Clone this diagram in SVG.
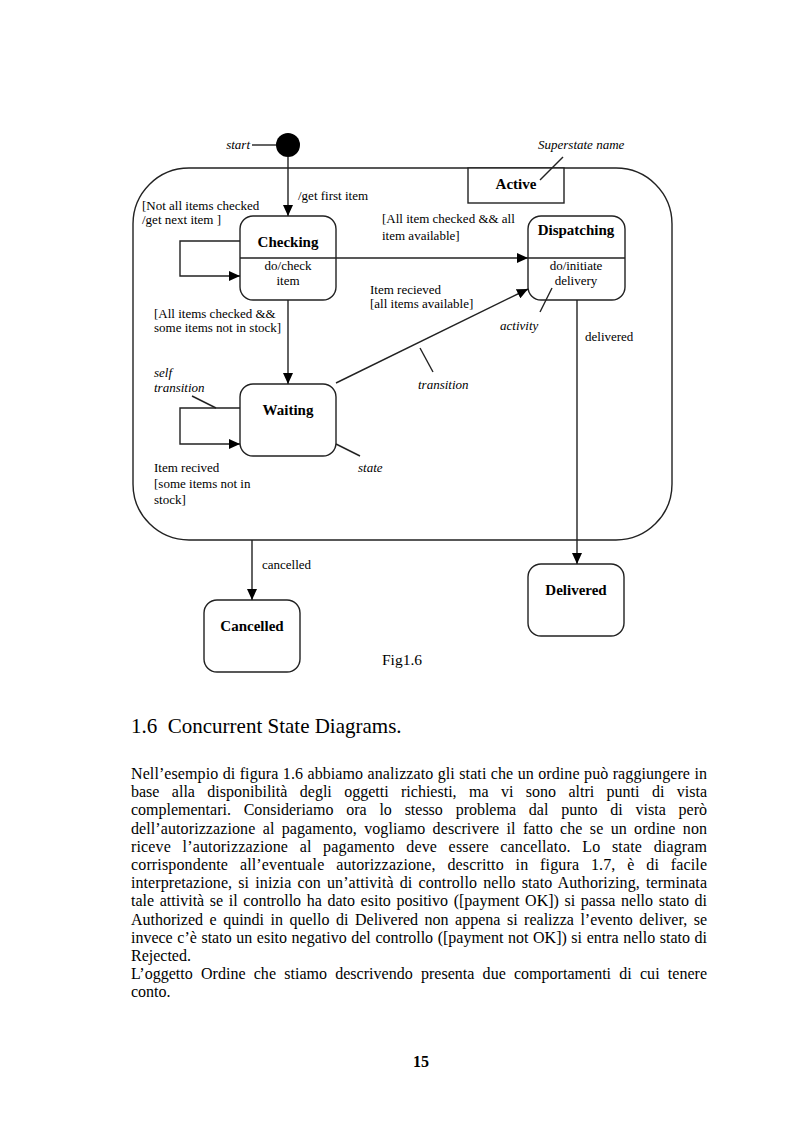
<svg xmlns="http://www.w3.org/2000/svg" width="793" height="1123" viewBox="0 0 793 1123">
<style>
.ln{fill:none;stroke:#222;stroke-width:1.4}
.st{fill:#fff;stroke:#222;stroke-width:1.4}
.t{font-family:"Liberation Serif","Times New Roman",serif;font-size:13px;fill:#000}
.i{font-style:italic}
.b{font-family:"Liberation Serif","Times New Roman",serif;font-size:15px;font-weight:bold;fill:#000;text-anchor:middle}
.c{text-anchor:middle}
.body{font-family:"Liberation Serif","Times New Roman",serif;font-size:16px;fill:#000}
</style>
<defs>
<marker id="ah" markerWidth="11" markerHeight="10" refX="11" refY="5" orient="auto" markerUnits="userSpaceOnUse">
<path d="M0,0 L11,5 L0,10 z" fill="#000"/>
</marker>
</defs>
<rect width="793" height="1123" fill="#fff"/>

<g id="superstate">
<rect x="133" y="168" width="539" height="372" rx="56" ry="56" class="ln"/>
</g>
<g id="active">
<rect x="468" y="168" width="96" height="35" class="st"/>
<text x="516" y="189" class="b">Active</text>
</g>
<g id="start">
<circle cx="288" cy="145" r="12" fill="#000"/>
<text x="250" y="149" class="t i" text-anchor="end">start</text>
<line x1="252" y1="145" x2="276" y2="145" class="ln"/>
</g>
<g id="checking">
<rect x="240" y="216" width="96" height="84" rx="13" class="st"/>
<line x1="240" y1="258" x2="336" y2="258" class="ln"/>
<text x="288" y="247" class="b">Checking</text>
<text x="288" y="270" class="t c">do/check</text>
<text x="288" y="285" class="t c">item</text>
</g>
<g id="dispatching">
<rect x="528" y="216" width="97" height="84" rx="13" class="st"/>
<line x1="528" y1="258" x2="625" y2="258" class="ln"/>
<text x="576" y="235" class="b">Dispatching</text>
<text x="576" y="270" class="t c">do/initiate</text>
<text x="576" y="285" class="t c">delivery</text>
</g>
<g id="waiting">
<rect x="240" y="384" width="96" height="72" rx="13" class="st"/>
<text x="288" y="415" class="b">Waiting</text>
</g>
<g id="delivered">
<rect x="528" y="564" width="96" height="72" rx="13" class="st"/>
<text x="576" y="595" class="b">Delivered</text>
</g>
<g id="cancelled">
<rect x="204" y="600" width="96" height="72" rx="13" class="st"/>
<text x="252" y="631" class="b">Cancelled</text>
</g>

<g id="connectors">
<line x1="288" y1="157" x2="288" y2="216" class="ln" marker-end="url(#ah)"/>
<polyline points="240,241 180,241 180,276 240,276" class="ln" marker-end="url(#ah)"/>
<line x1="336" y1="258" x2="528" y2="258" class="ln" marker-end="url(#ah)"/>
<line x1="288" y1="300" x2="288" y2="384" class="ln" marker-end="url(#ah)"/>
<polyline points="240,408 180,408 180,444 240,444" class="ln" marker-end="url(#ah)"/>
<line x1="336" y1="383" x2="528" y2="289" class="ln" marker-end="url(#ah)"/>
<line x1="577" y1="300" x2="577" y2="564" class="ln" marker-end="url(#ah)"/>
<line x1="252" y1="540" x2="252" y2="600" class="ln" marker-end="url(#ah)"/>
<line x1="540" y1="180" x2="563" y2="157" class="ln"/>
<line x1="192" y1="396" x2="216" y2="408" class="ln"/>
<line x1="420" y1="348" x2="433" y2="372" class="ln"/>
<line x1="540" y1="312" x2="552" y2="288" class="ln"/>
<line x1="336" y1="444" x2="360" y2="456" class="ln"/>
</g>

<g id="labels">
<text x="538" y="149" class="t i">Superstate name</text>
<text x="298" y="200" class="t">/get first item</text>
<text x="142" y="210" class="t">[Not all items checked</text>
<text x="142" y="224" class="t">/get next item ]</text>
<text x="382" y="223" class="t">[All item checked &amp;&amp; all</text>
<text x="382" y="240" class="t">item available]</text>
<text x="370" y="294" class="t">Item recieved</text>
<text x="370" y="308" class="t">[all items available]</text>
<text x="154" y="318" class="t">[All items checked &amp;&amp;</text>
<text x="154" y="332" class="t">some items not in stock]</text>
<text x="500" y="330" class="t i">activity</text>
<text x="585" y="341" class="t">delivered</text>
<text x="154" y="377" class="t i">self</text>
<text x="154" y="392" class="t i">transition</text>
<text x="418" y="389" class="t i">transition</text>
<text x="154" y="472" class="t">Item recived</text>
<text x="154" y="488" class="t">[some items not in</text>
<text x="154" y="504" class="t">stock]</text>
<text x="358" y="472" class="t i">state</text>
<text x="262" y="569" class="t">cancelled</text>
<text x="382" y="665" class="body" style="font-size:15.5px">Fig1.6</text>
</g>

<g id="page-text">
<text x="131" y="733" class="body" style="font-size:21px" xml:space="preserve">1.6  Concurrent State Diagrams.</text>
<text x="131" y="779" class="body" textLength="576" lengthAdjust="spacing" word-spacing="0.3">Nell’esempio di figura 1.6 abbiamo analizzato gli stati che un ordine può raggiungere in</text>
<text x="131" y="797.2" class="body" textLength="576" lengthAdjust="spacing" word-spacing="8.4">base alla disponibilità degli oggetti richiesti, ma vi sono altri punti di vista</text>
<text x="131" y="815.4" class="body" textLength="576" lengthAdjust="spacing" word-spacing="8.8">complementari. Consideriamo ora lo stesso problema dal punto di vista però</text>
<text x="131" y="833.6" class="body" textLength="576" lengthAdjust="spacing" word-spacing="3.2">dell’autorizzazione al pagamento, vogliamo descrivere il fatto che se un ordine non</text>
<text x="131" y="851.8" class="body" textLength="576" lengthAdjust="spacing" word-spacing="7.4">riceve l’autorizzazione al pagamento deve essere cancellato. Lo state diagram</text>
<text x="131" y="870" class="body" textLength="576" lengthAdjust="spacing" word-spacing="7.6">corrispondente all’eventuale autorizzazione, descritto in figura 1.7, è di facile</text>
<text x="131" y="888.2" class="body" textLength="576" lengthAdjust="spacing" word-spacing="2.1">interpretazione, si inizia con un’attività di controllo nello stato Authorizing, terminata</text>
<text x="131" y="906.4" class="body" textLength="576" lengthAdjust="spacing" word-spacing="1.6">tale attività se il controllo ha dato esito positivo ([payment OK]) si passa nello stato di</text>
<text x="131" y="924.6" class="body" textLength="576" lengthAdjust="spacing" word-spacing="2.5">Authorized e quindi in quello di Delivered non appena si realizza l’evento deliver, se</text>
<text x="131" y="942.8" class="body" textLength="576" lengthAdjust="spacing" word-spacing="0.6">invece c’è stato un esito negativo del controllo ([payment not OK]) si entra nello stato di</text>
<text x="131" y="961" class="body">Rejected.</text>
<text x="131" y="979.2" class="body" textLength="576" lengthAdjust="spacing" word-spacing="4.2">L’oggetto Ordine che stiamo descrivendo presenta due comportamenti di cui tenere</text>
<text x="131" y="997.4" class="body">conto.</text>
<text x="421" y="1067" class="body" style="font-weight:bold" text-anchor="middle">15</text>
</g>
</svg>
